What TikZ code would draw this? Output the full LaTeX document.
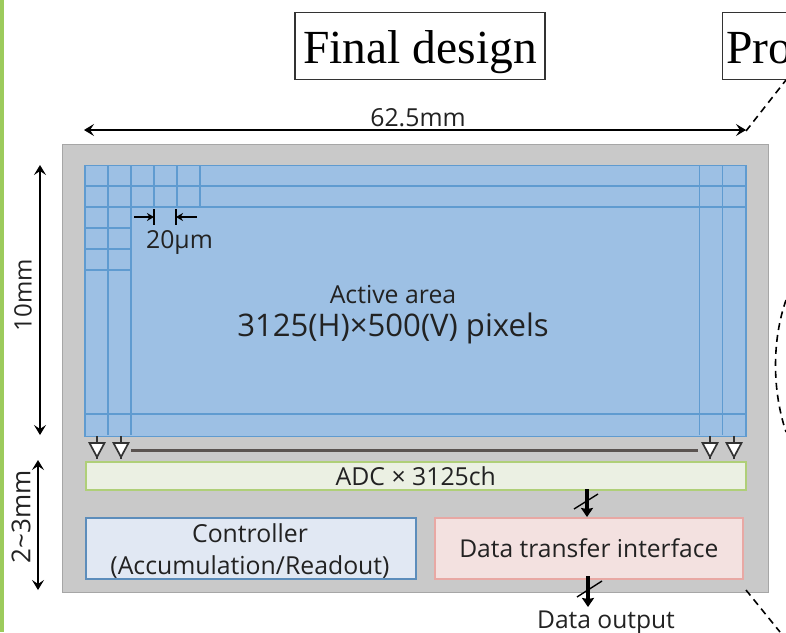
\documentclass[tikz,border=0pt]{standalone}
\usepackage{fontspec}
\setmainfont{Open Sans}
\newfontfamily\titlefont{Liberation Serif}
\usetikzlibrary{arrows.meta}
\definecolor{chipgray}{HTML}{C9C9C9}
\definecolor{chipedge}{HTML}{A6A6A6}
\definecolor{pixfill}{HTML}{9DC0E4}
\definecolor{pixline}{HTML}{5F9BD0}
\definecolor{adcfill}{HTML}{EBF0E3}
\definecolor{adcline}{HTML}{AFCF78}
\definecolor{ctlfill}{HTML}{E1E8F3}
\definecolor{ctlline}{HTML}{5C8DBB}
\definecolor{dtifill}{HTML}{F3E1E0}
\definecolor{dtiline}{HTML}{E8A8A4}
\definecolor{barcol}{HTML}{5A5350}
\definecolor{stripe}{HTML}{9CCB5C}
\definecolor{ink}{HTML}{222222}
\tikzset{
 x=1pt,y=-1pt,
 titlebox/.style={draw=black!80,line width=1.2pt,fill=white,inner sep=0pt,font=\titlefont\fontsize{47.5}{48}\selectfont,text=black,text height=47pt,text depth=13pt},
 lab/.style={font=\fontsize{24.8}{30}\selectfont,text=ink,inner sep=0pt,align=center},
 block/.style={line width=1.6pt,inner sep=0pt},
 dimline/.style={line width=1.5pt,black,{Stealth[length=10pt,width=12pt,inset=4pt]}-{Stealth[length=10pt,width=12pt,inset=4pt]}},
 grid/.style={pixline,line width=1.6pt},
 buf/.style={draw=black!80,fill=white,line width=1.7pt},
 stub/.style={black!80,line width=1.8pt},
 busline/.style={black,line width=4.5pt,-{Stealth[length=9pt,width=12pt,inset=1pt]}},
 slash/.style={black,line width=1.4pt},
 zoomline/.style={black,line width=1.6pt,dash pattern=on 7pt off 5pt},
}
\begin{document}
\begin{tikzpicture}
\useasboundingbox (0,0) rectangle (786,632);
\fill[white] (0,0) rectangle (786,632);
\fill[stripe] (0,0) rectangle (4,632);
% chip
\node[draw=chipedge,fill=chipgray,line width=1.4pt,minimum width=706pt,minimum height=448pt,inner sep=0pt,anchor=north west] (chip) at (62,143.5) {};
% pixel array
\node[draw=pixline,fill=pixfill,line width=1.6pt,minimum width=661pt,minimum height=271pt,inner sep=0pt,anchor=north west] (active) at (84.3,164.5) {};
\foreach \xx in {108,131,699.5,722.5}{\draw[grid] (\xx,165) -- (\xx,435);}
\foreach \xx in {154,177,200}{\draw[grid] (\xx,165) -- (\xx,207);}
\foreach \yy in {186,207,414}{\draw[grid] (85,\yy) -- (745,\yy);}
\foreach \yy in {228,249,270}{\draw[grid] (85,\yy) -- (131,\yy);}
% 20um
\coordinate (ma) at (154,217);
\coordinate (mb) at (176,217);
\draw[black,line width=1.2pt] (154,209) -- (154,225) (176,209) -- (176,225);
\coordinate (mal) at (134,217);
\coordinate (mbr) at (197,217);
\draw[black,line width=1.4pt,-{Stealth[length=7pt,width=8pt]}] (mal) -- (ma);
\draw[black,line width=1.4pt,-{Stealth[length=7pt,width=8pt]}] (mbr) -- (mb);
\node[lab] (um) at (179.5,242) {20µm};
\node[lab] (aa) at (393,295) {Active area};
\node[lab,font=\fontsize{31.1}{36}\selectfont] (px) at (393,328) {3125(H)×500(V) pixels};
% buffers
\foreach \xx/\nm in {97/a,121/b,710/c,734/d}{
 \draw[stub] (\xx,436) -- (\xx,443);
 \draw[stub] (\xx,452) -- (\xx,459);
 \draw[buf] (\xx-7.5,443) -- (\xx+7.5,443) -- (\xx,457) -- cycle;
}
\draw[barcol,line width=3pt] (131,450) -- (698,450);
% ADC
\node[block,draw=adcline,fill=adcfill,minimum width=660pt,minimum height=28pt,anchor=north west,font=\fontsize{24.8}{30}\selectfont,text=ink] (adc) at (85,461) {ADC × 3125ch};
% controller
\node[block,draw=ctlline,fill=ctlfill,minimum width=330pt,minimum height=61pt,anchor=north west] (ctl) at (85,517.3) {};
\node[lab,font=\fontsize{24.8}{32}\selectfont] (ctltxt) at (250,551) {Controller\\(Accumulation/Readout)};
% dti
\node[block,draw=dtiline,fill=dtifill,minimum width=308pt,minimum height=61pt,anchor=north west,font=\fontsize{24.6}{30}\selectfont,text=ink] (dti) at (434,517) {Data transfer interface};
% buses
\draw[busline] (587,489) -- (587,517);
\draw[slash] (574,509) -- (598,494);
\coordinate (dout) at (588,607);
\draw[busline] (588,576) -- (dout);
\draw[slash] (577,597) -- (602,581);
\node[lab,font=\fontsize{24.6}{30}\selectfont] (out) at (606,622.5) {Data output};
% dims
\coordinate (t1) at (84,130); \coordinate (t2) at (746,130);
\draw[dimline] (t1) -- (t2);
\node[lab] (w) at (418,118) {62.5mm};
\coordinate (l1) at (40,165); \coordinate (l2) at (40,435);
\draw[dimline] (l1) -- (l2);
\node[lab,rotate=90,font=\fontsize{24}{30}\selectfont] (h) at (23,295) {10mm};
\coordinate (m1) at (38,460); \coordinate (m2) at (38,590);
\draw[dimline] (m1) -- (m2);
\node[lab,rotate=90,font=\fontsize{26}{30}\selectfont] (h2) at (21,517) {2\textasciitilde 3mm};
% titles
\node[titlebox,minimum width=250pt,minimum height=67pt] (fd) at (420,46) {Final design};
\begin{scope}
\clip (0,0) rectangle (786,632);
\node[titlebox,anchor=north west,minimum width=120pt,minimum height=67pt,text width=113pt,align=left] (pro) at (722,12) {Pro};
\end{scope}
% dashed zoom lines
\coordinate (z1) at (746,131); \coordinate (z2) at (786,80);
\draw[zoomline] (z1) -- (z2);
\coordinate (z3) at (746,590); \coordinate (z4) at (780,632);
\draw[zoomline] (z3) -- (z4);
\coordinate (z5) at (786,300); \coordinate (z6) at (786,432);
\draw[zoomline] (z5) .. controls (772,340) and (772,390) .. (z6);
\end{tikzpicture}
\end{document}
